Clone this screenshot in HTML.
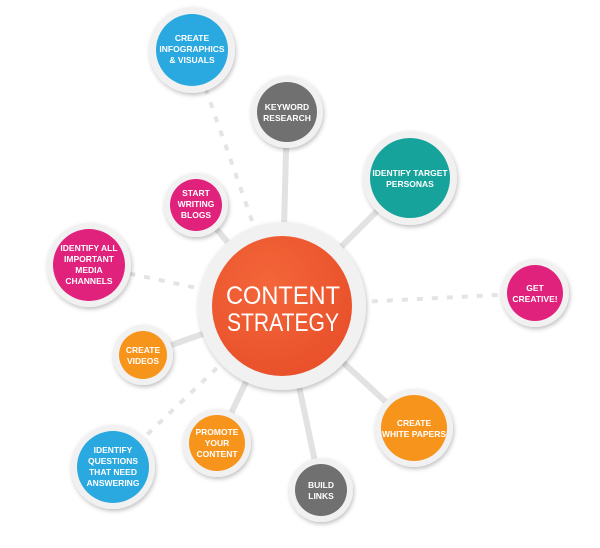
<!DOCTYPE html>
<html><head><style>
body{margin:0;background:#fff;width:600px;height:543px;overflow:hidden}
svg text{font-family:"Liberation Sans",sans-serif;fill:#fff;text-anchor:middle}
</style></head><body>
<svg width="600" height="543" viewBox="0 0 600 543">
<defs>
<filter id="sh" x="-30%" y="-30%" width="160%" height="160%"><feDropShadow dx="1" dy="2" stdDeviation="2" flood-color="#000" flood-opacity="0.25"/></filter>
<radialGradient id="og" cx="40%" cy="35%" r="70%"><stop offset="0" stop-color="#f4663a"/><stop offset="1" stop-color="#e8502a"/></radialGradient>
</defs>
<g stroke="#e2e2e2" stroke-width="6" fill="none">
<line x1="282" y1="306" x2="287" y2="112"/>
<line x1="282" y1="306" x2="410" y2="178"/>
<line x1="282" y1="306" x2="196" y2="205"/>
<line x1="282" y1="306" x2="143" y2="355"/>
<line x1="282" y1="306" x2="414" y2="428"/>
<line x1="282" y1="306" x2="217" y2="443"/>
<line x1="282" y1="306" x2="321" y2="490"/>
</g>
<g stroke="#e4e4e4" stroke-width="4" stroke-dasharray="6 9" fill="none">
<line x1="282" y1="306" x2="192" y2="50"/>
<line x1="282" y1="306" x2="89" y2="265"/>
<line x1="282" y1="306" x2="535" y2="293"/>
<line x1="282" y1="306" x2="113" y2="467"/>
</g>
<g filter="url(#sh)">
<circle cx="282" cy="306" r="84" fill="#f1f1f1"/>
<circle cx="192" cy="50" r="43" fill="#f1f1f1"/><circle cx="192" cy="50" r="36" fill="#29a8e0"/>
<circle cx="287" cy="112" r="36" fill="#f1f1f1"/><circle cx="287" cy="112" r="30" fill="#6f6f6f"/>
<circle cx="410" cy="178" r="47" fill="#f1f1f1"/><circle cx="410" cy="178" r="40" fill="#16a39b"/>
<circle cx="196" cy="205" r="32" fill="#f1f1f1"/><circle cx="196" cy="205" r="26" fill="#e0207d"/>
<circle cx="89" cy="265" r="42" fill="#f1f1f1"/><circle cx="89" cy="265" r="36" fill="#e0207d"/>
<circle cx="535" cy="293" r="34" fill="#f1f1f1"/><circle cx="535" cy="293" r="28" fill="#e0207d"/>
<circle cx="143" cy="355" r="30" fill="#f1f1f1"/><circle cx="143" cy="355" r="24" fill="#f7941d"/>
<circle cx="414" cy="428" r="39" fill="#f1f1f1"/><circle cx="414" cy="428" r="33" fill="#f7941d"/>
<circle cx="217" cy="443" r="34" fill="#f1f1f1"/><circle cx="217" cy="443" r="28" fill="#f7941d"/>
<circle cx="113" cy="467" r="42" fill="#f1f1f1"/><circle cx="113" cy="467" r="36" fill="#29a8e0"/>
<circle cx="321" cy="490" r="32" fill="#f1f1f1"/><circle cx="321" cy="490" r="26" fill="#6f6f6f"/>
</g>
<circle cx="282" cy="306" r="70" fill="url(#og)"/>
<text x="283" y="304" font-size="25" textLength="114" lengthAdjust="spacingAndGlyphs">CONTENT</text>
<text x="283" y="331" font-size="25" textLength="112" lengthAdjust="spacingAndGlyphs">STRATEGY</text>
<g font-size="8.5" font-weight="bold">
<text x="192" y="41">CREATE</text><text x="192" y="52">INFOGRAPHICS</text><text x="192" y="63">&amp; VISUALS</text>
<text x="287" y="110">KEYWORD</text><text x="287" y="121">RESEARCH</text>
<text x="410" y="176">IDENTIFY TARGET</text><text x="410" y="187">PERSONAS</text>
<text x="196" y="196">START</text><text x="196" y="207">WRITING</text><text x="196" y="218">BLOGS</text>
<text x="89" y="251">IDENTIFY ALL</text><text x="89" y="262">IMPORTANT</text><text x="89" y="273">MEDIA</text><text x="89" y="284">CHANNELS</text>
<text x="535" y="291">GET</text><text x="535" y="302">CREATIVE!</text>
<text x="143" y="353">CREATE</text><text x="143" y="364">VIDEOS</text>
<text x="414" y="426">CREATE</text><text x="414" y="437">WHITE PAPERS</text>
<text x="217" y="435">PROMOTE</text><text x="217" y="446">YOUR</text><text x="217" y="457">CONTENT</text>
<text x="113" y="453">IDENTIFY</text><text x="113" y="464">QUESTIONS</text><text x="113" y="475">THAT NEED</text><text x="113" y="486">ANSWERING</text>
<text x="321" y="488">BUILD</text><text x="321" y="499">LINKS</text>
</g>
</svg>
</body></html>
